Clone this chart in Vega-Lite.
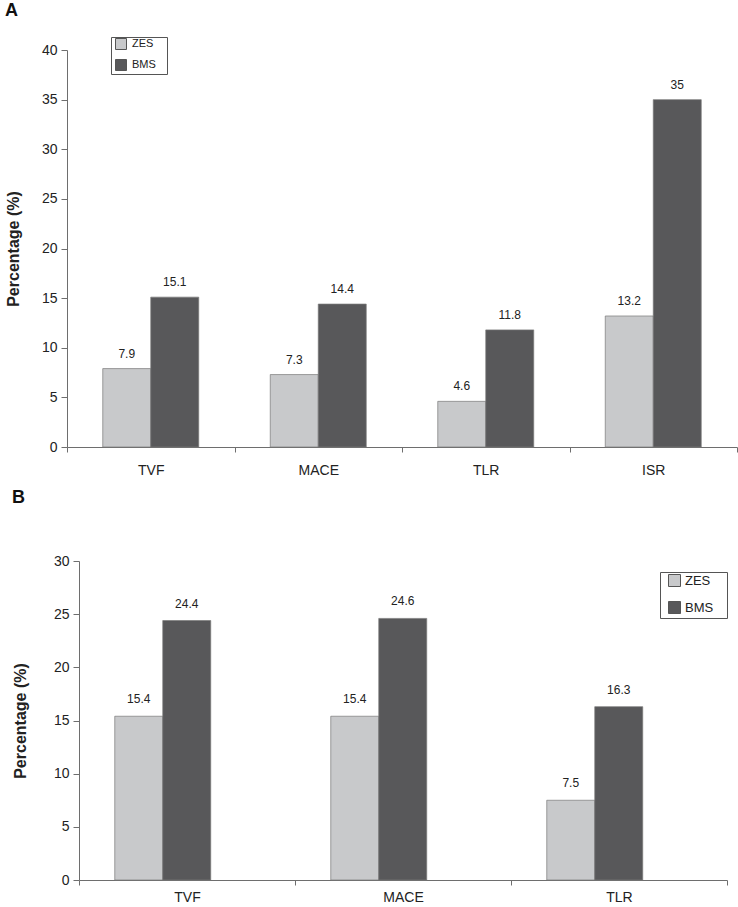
{
  "$schema": "https://vega.github.io/schema/vega-lite/v6.json",
  "padding": {"left": 5, "top": 1, "right": 0, "bottom": 0},
  "background": "white",
  "spacing": 12,
  "config": {
    "font": "Liberation Sans",
    "view": {"stroke": null},
    "axis": {
      "domainColor": "#6e6e6e",
      "tickColor": "#6e6e6e",
      "labelColor": "#222222",
      "labelFont": "Liberation Sans",
      "labelFontSize": 14,
      "titleFont": "Liberation Sans",
      "titleFontSize": 16,
      "titleFontWeight": "bold",
      "titleColor": "#222222",
      "grid": false
    },
    "legend": {
      "labelFont": "Liberation Sans",
      "labelColor": "#222222",
      "strokeColor": "#555555",
      "symbolType": "square",
      "symbolStrokeColor": "#555555",
      "symbolStrokeWidth": 1,
      "symbolOpacity": 1
    }
  },
  "resolve": {
    "scale": {"color": "independent", "x": "independent", "y": "independent"},
    "legend": {"color": "independent"}
  },
  "vconcat": [
    {
      "title": {"text": "A", "anchor": "start", "frame": "group", "dx": -74, "offset": 17, "fontSize": 18, "fontWeight": "bold", "color": "#111111"},
      "width": 658,
      "height": 397,
      "data": {
        "values": [
          {"outcome": "TVF", "group": "ZES", "value": 7.9},
          {"outcome": "TVF", "group": "BMS", "value": 15.1},
          {"outcome": "MACE", "group": "ZES", "value": 7.3},
          {"outcome": "MACE", "group": "BMS", "value": 14.4},
          {"outcome": "TLR", "group": "ZES", "value": 4.6},
          {"outcome": "TLR", "group": "BMS", "value": 11.8},
          {"outcome": "ISR", "group": "ZES", "value": 13.2},
          {"outcome": "ISR", "group": "BMS", "value": 35}
        ]
      },
      "encoding": {
        "x": {
          "field": "outcome", "type": "nominal", "sort": ["TVF", "MACE", "TLR", "ISR"],
          "scale": {"paddingInner": 0, "paddingOuter": 0, "range": [-12, 658]},
          "axis": {"title": null, "labelAngle": 0, "tickBand": "extent", "tickSize": 5, "labelPadding": 11}
        },
        "xOffset": {
          "field": "group", "type": "nominal", "sort": ["ZES", "BMS"],
          "scale": {"paddingInner": 0, "paddingOuter": 0.745}
        },
        "y": {
          "field": "value", "type": "quantitative",
          "scale": {"domain": [0, 40], "nice": false},
          "axis": {"title": "Percentage (%)", "offset": 12, "values": [0, 5, 10, 15, 20, 25, 30, 35, 40], "tickSize": 6, "labelPadding": 4, "titlePadding": 20}
        }
      },
      "layer": [
        {
          "mark": {"type": "bar", "stroke": "#7a7a7a", "strokeWidth": 0.7},
          "encoding": {
            "color": {
              "field": "group", "type": "nominal",
              "scale": {"domain": ["ZES", "BMS"], "range": ["#c8c9cb", "#58585a"]},
              "legend": {"title": null, "orient": "none", "legendX": 32, "legendY": -13, "padding": 1, "rowPadding": 5, "labelFontSize": 11, "symbolSize": 121, "labelOffset": 5, "symbolOffset": 3, "labelExpr": "datum.label + '\u00a0\u00a0\u00a0\u200b'"}
            }
          }
        },
        {
          "mark": {"type": "text", "dy": -15, "fontSize": 12, "color": "#222222"},
          "encoding": {"text": {"field": "value", "type": "quantitative"}}
        }
      ]
    },
    {
      "title": {"text": "B", "anchor": "start", "frame": "group", "dx": -67, "offset": 47, "fontSize": 18, "fontWeight": "bold", "color": "#111111"},
      "width": 648,
      "height": 319,
      "data": {
        "values": [
          {"outcome": "TVF", "group": "ZES", "value": 15.4},
          {"outcome": "TVF", "group": "BMS", "value": 24.4},
          {"outcome": "MACE", "group": "ZES", "value": 15.4},
          {"outcome": "MACE", "group": "BMS", "value": 24.6},
          {"outcome": "TLR", "group": "ZES", "value": 7.5},
          {"outcome": "TLR", "group": "BMS", "value": 16.3}
        ]
      },
      "encoding": {
        "x": {
          "field": "outcome", "type": "nominal", "sort": ["TVF", "MACE", "TLR"],
          "scale": {"paddingInner": 0, "paddingOuter": 0},
          "axis": {"title": null, "labelAngle": 0, "tickBand": "extent", "tickSize": 5, "labelPadding": 5}
        },
        "xOffset": {
          "field": "group", "type": "nominal", "sort": ["ZES", "BMS"],
          "scale": {"paddingInner": 0, "paddingOuter": 0.742}
        },
        "y": {
          "field": "value", "type": "quantitative",
          "scale": {"domain": [0, 30], "nice": false},
          "axis": {"title": "Percentage (%)", "values": [0, 5, 10, 15, 20, 25, 30], "tickSize": 6, "labelPadding": 4, "titlePadding": 25}
        }
      },
      "layer": [
        {
          "mark": {"type": "bar", "stroke": "#7a7a7a", "strokeWidth": 0.7},
          "encoding": {
            "color": {
              "field": "group", "type": "nominal",
              "scale": {"domain": ["ZES", "BMS"], "range": ["#c8c9cb", "#58585a"]},
              "legend": {"title": null, "orient": "none", "legendX": 581, "legendY": 11, "padding": 2, "rowPadding": 10, "labelFontSize": 13, "symbolSize": 144, "labelOffset": 4, "symbolOffset": 6, "labelExpr": "datum.label + '\u00a0\u00a0\u00a0\u200b'"}
            }
          }
        },
        {
          "mark": {"type": "text", "dy": -17, "fontSize": 12, "color": "#222222"},
          "encoding": {"text": {"field": "value", "type": "quantitative"}}
        }
      ]
    }
  ]
}
